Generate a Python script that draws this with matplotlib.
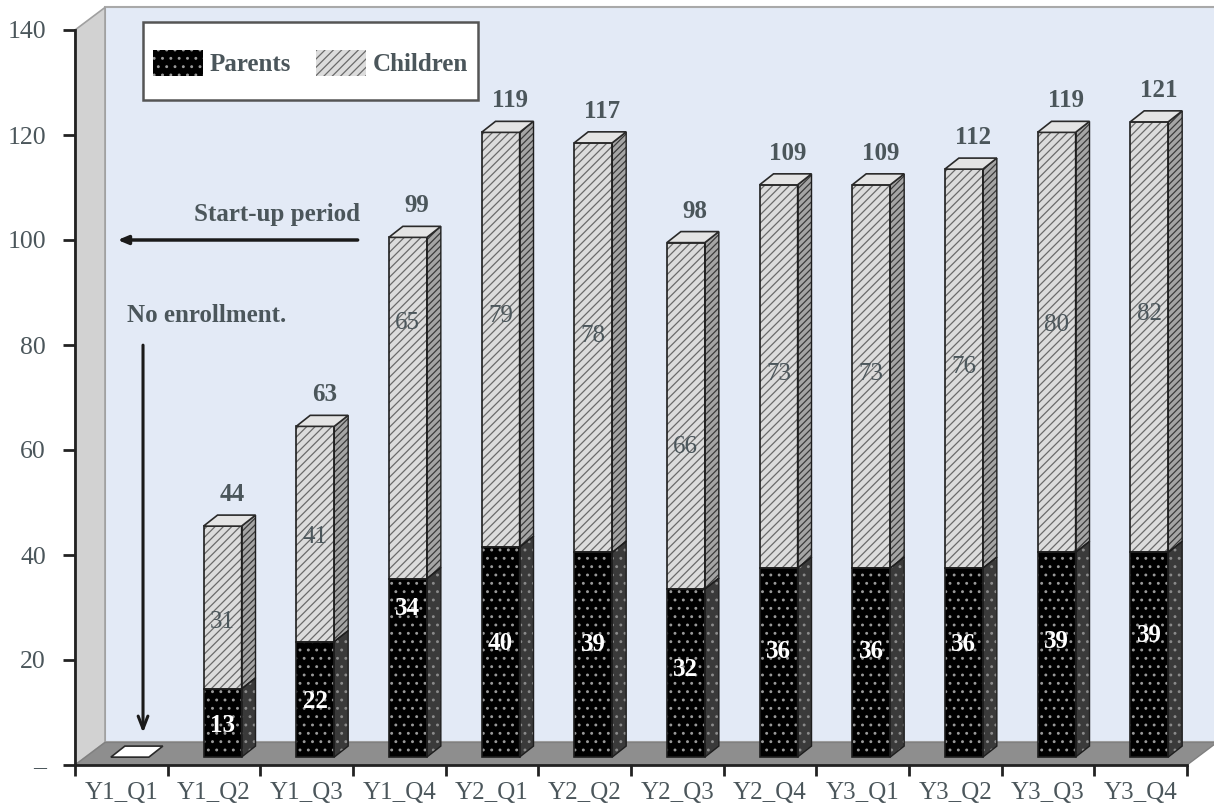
import numpy as np
import matplotlib.pyplot as plt
from matplotlib.patches import Polygon, Patch, Rectangle

# data
quarters = ['Y1_Q1', 'Y1_Q2', 'Y1_Q3', 'Y1_Q4', 'Y2_Q1', 'Y2_Q2',
            'Y2_Q3', 'Y2_Q4', 'Y3_Q1', 'Y3_Q2', 'Y3_Q3', 'Y3_Q4']
parents = [0, 13, 22, 34, 40, 39, 32, 36, 36, 36, 39, 39]
children = [0, 31, 41, 65, 79, 78, 66, 73, 73, 76, 80, 82]
totals = [0, 44, 63, 99, 119, 117, 98, 109, 109, 112, 119, 121]

# where excel put the in-bar labels (value units)
parent_lbl_y = [0, 7.6, 12.0, 29.9, 23.2, 22.9, 18.1, 21.7, 21.7, 22.9, 23.6, 24.6]
child_lbl_y = [0, 27.2, 43.4, 84.2, 85.5, 81.7, 60.6, 74.5, 74.5, 75.8, 83.8, 85.9]

TXT = '#4b565b'
FONT = 'Liberation Serif'
plt.rcParams['font.family'] = [FONT, 'DejaVu Serif']
plt.rcParams['hatch.linewidth'] = 0.9

W, H = 1214, 806
fig = plt.figure(figsize=(W / 100, H / 100), dpi=100)
ax = fig.add_axes([75 / W, 41 / H, 1112 / W, 735 / H])
ax.set_xlim(0, 12)
ax.set_ylim(0, 140)
ax.patch.set_visible(False)

# fake 3d geometry (data units)
wx, wy = 0.324, 4.3      # wall depth
bx, by = 0.092, 1.5      # bar sits a bit behind the front
dx, dy = 0.151, 2.1      # bar depth
bw = 0.41                # bar front width

# walls + floor
ax.add_patch(Polygon([(wx, wy), (12.4, wy), (12.4, 140 + wy), (wx, 140 + wy)],
                     closed=True, fc='#e3eaf6', ec='#a9a9a9', lw=1.5, zorder=0, clip_on=False))
ax.add_patch(Polygon([(0, 0), (0, 140), (wx, 140 + wy), (wx, wy)],
                     closed=True, fc='#d2d2d2', ec='#a0a0a0', lw=1.2, zorder=0, clip_on=False))
ax.add_patch(Polygon([(0, 0), (12, 0), (12 + wx, wy), (wx, wy)],
                     closed=True, fc='#8e8e8e', ec='#808080', lw=1, zorder=0.5, clip_on=False))

x = np.arange(len(quarters)) + 0.5 + bx
par = np.array(parents)
chi = np.array(children)

# front faces
ax.bar(x, par, bw, bottom=by, color='black', edgecolor='#9a9a9a', hatch='..', lw=0, zorder=2)
ax.bar(x, chi, bw, bottom=by + par, color='#dcdcdc', edgecolor='#6a6a6a', hatch='////', lw=0, zorder=2)
ax.bar(x, par, bw, bottom=by, fill=False, edgecolor='#1e1e1e', lw=1.2, zorder=3)
ax.bar(x, chi, bw, bottom=by + par, fill=False, edgecolor='#1e1e1e', lw=1.2, zorder=3)


def side(xr, y0, y1, **kw):
    pts = [(xr, y0), (xr + dx, y0 + dy), (xr + dx, y1 + dy), (xr, y1)]
    ax.add_patch(Polygon(pts, closed=True, zorder=2, **kw))
    ax.add_patch(Polygon(pts, closed=True, fill=False, ec='#1e1e1e', lw=1.0, zorder=3))


for i in range(len(quarters)):
    xl, xr = x[i] - bw / 2, x[i] + bw / 2
    if parents[i] > 0:
        side(xr, by, by + parents[i], fc='#3a3a3a', ec='#8a8a8a', hatch='..', lw=0)
    if children[i] > 0:
        side(xr, by + parents[i], by + totals[i], fc='#a5a5a5', ec='#3a3a3a', hatch='/////', lw=0)
    top = by + totals[i]
    ax.add_patch(Polygon([(xl, top), (xl + dx, top + dy), (xr + dx, top + dy), (xr, top)],
                         closed=True, fc='#e4e4e4' if totals[i] else 'white',
                         ec='#2a2a2a', lw=1.2, zorder=3))

    if totals[i] == 0:
        continue
    ax.text(x[i] + 0.1, top + 6.0, str(totals[i]), ha='center', va='center',
            fontsize=18, fontweight='bold', color=TXT, zorder=6)
    ax.text(x[i], parent_lbl_y[i], str(parents[i]), ha='center', va='center',
            fontsize=18, fontweight='bold', color='white', zorder=6)
    ax.text(x[i], child_lbl_y[i], str(children[i]), ha='center', va='center',
            fontsize=18, color=TXT, zorder=6)

# annotations
ax.annotate('', xy=(0.43, 100), xytext=(3.08, 100),
            arrowprops=dict(arrowstyle='-|>,head_length=0.6,head_width=0.25', color='#1a1a1a', lw=2.5),
            zorder=6)
ax.text(3.08, 104.8, 'Start-up period', ha='right', va='center', fontsize=18,
        fontweight='bold', color=TXT, zorder=6)
ax.text(0.56, 85.6, 'No enrollment.', ha='left', va='center', fontsize=18,
        fontweight='bold', color=TXT, zorder=6)
ax.annotate('', xy=(0.734, 5.6), xytext=(0.734, 80.5),
            arrowprops=dict(arrowstyle='->,head_length=0.9,head_width=0.35', color='#1a1a1a', lw=2.2),
            zorder=6)

# axes
for s in ['top', 'right']:
    ax.spines[s].set_visible(False)
ax.spines['left'].set_color('#222222')
ax.spines['left'].set_linewidth(2)
ax.spines['bottom'].set_color('#222222')
ax.spines['bottom'].set_linewidth(2)
ax.spines['left'].set_zorder(4)
ax.spines['bottom'].set_zorder(4)

ax.set_yticks(np.arange(0, 141, 20))
ax.set_yticklabels(['–'] + [str(v) for v in range(20, 141, 20)])
ax.tick_params(axis='y', length=9, width=2, color='#222222', labelsize=18.5,
               labelcolor=TXT, pad=12)
ax.set_xticks(np.arange(0, 13))
ax.set_xticklabels([])
ax.tick_params(axis='x', which='major', length=8, width=2, color='#222222')
ax.set_xticks(np.arange(len(quarters)) + 0.5, minor=True)
ax.set_xticklabels(quarters, minor=True)
ax.tick_params(axis='x', which='minor', length=0, labelsize=18, labelcolor=TXT, pad=12)

# legend box
ax.add_patch(Rectangle((143 / W, 1 - 100 / H), 335 / W, 78 / H, transform=fig.transFigure,
                       fc='white', ec='#555555', lw=1.8, zorder=8, clip_on=False))
handles = [Patch(facecolor='black', edgecolor='#9a9a9a', hatch='..', lw=0, label='Parents'),
           Patch(facecolor='#dcdcdc', edgecolor='#6a6a6a', hatch='////', lw=0, label='Children')]
leg = ax.legend(handles=handles, loc='center', bbox_to_anchor=(310.5 / W, 1 - 63 / H),
                bbox_transform=fig.transFigure, ncol=2, frameon=False,
                prop={'family': FONT, 'size': 18, 'weight': 'bold'},
                handlelength=2.0, handleheight=1.25, handletextpad=0.25, columnspacing=1.0)
for t in leg.get_texts():
    t.set_color(TXT)
leg.set_zorder(9)

fig.savefig('out.png', dpi=100)
